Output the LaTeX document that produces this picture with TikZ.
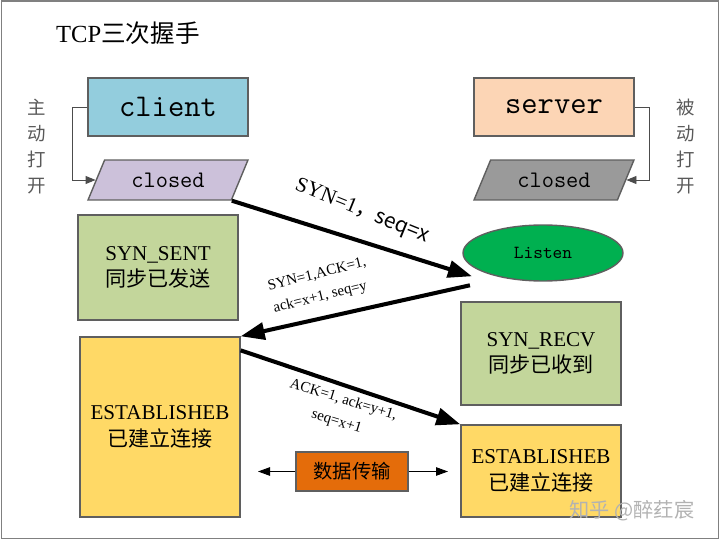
\documentclass[tikz,border=0pt]{standalone}
\usepackage{fontspec}
\setmainfont{Liberation Serif}
\newfontfamily\cjk{Noto Sans CJK SC}
\usetikzlibrary{arrows.meta,positioning,shapes.geometric}
\definecolor{skyblue}{HTML}{93CDDD}
\definecolor{lilac}{HTML}{CCC1DA}
\definecolor{peach}{HTML}{FCD5B5}
\definecolor{ashgray}{HTML}{9A9A9A}
\definecolor{sage}{HTML}{C3D69B}
\definecolor{leaf}{HTML}{00B050}
\definecolor{sand}{HTML}{FFD966}
\definecolor{rust}{HTML}{E46C0A}
\definecolor{boxline}{HTML}{5F5F5F}
\definecolor{frame}{HTML}{808080}

\begin{document}
\begin{tikzpicture}[x=0.02cm,y=-0.02cm,
  box/.style={draw=boxline,line width=0.8pt,minimum width=3.2cm,align=center,
              font=\fontsize{12}{15}\selectfont},
  role/.style={box,minimum height=1.16cm,font=\ttfamily\fontsize{18}{20}\selectfont},
  para/.style={trapezium,trapezium left angle=70,trapezium right angle=110,
               trapezium stretches=true,draw=boxline,line width=0.8pt,
               minimum width=3.2cm,minimum height=0.8cm,inner xsep=0pt,
               font=\ttfamily\fontsize{13.5}{16}\selectfont},
  side/.style={text=black!65,align=center,font=\cjk\fontsize{10.5}{14.8}\selectfont},
  msg/.style={-{Triangle[length=4.8mm,width=3.4mm]},line width=2.3pt},
  tag/.style={align=center,font=\fontsize{8.5}{13}\selectfont},
  open/.style={-{Triangle[length=2mm,width=1.6mm]},draw=black!70,line width=0.5pt},
  flow/.style={-{Triangle[length=2.4mm,width=1.7mm]},line width=0.5pt}]
  \useasboundingbox (0,0) rectangle (720,540);
  \draw[frame,line width=1.1pt] (1.5,1) rectangle (718.5,538.5);

  \node[anchor=west,font=\fontsize{14}{16}\selectfont] (title) at (50,33) {TCP\cjk{三次握手}};

  % client side
  \node[role,fill=skyblue] (client) at (168,107) {client};
  \node[para,fill=lilac] (cclosed) at (168,180) {closed};
  \node[side] (active) at (37,147) {主\\动\\打\\开};
  \node[box,fill=sage,minimum height=2.1cm] (sent) at (158,267.5) {SYN\_SENT\\\cjk{同步已发送}};
  \node[box,fill=sand,minimum height=3.6cm] (estc) at (160,427) {ESTABLISHEB\\\cjk{已建立连接}};

  % server side
  \node[role,fill=peach] (server) at (554,107) {server};
  \node[para,fill=ashgray] (sclosed) at (554,180) {closed};
  \node[side] (passive) at (686,147) {被\\动\\打\\开};
  \node[ellipse,draw=boxline,line width=0.8pt,fill=leaf,minimum width=3.2cm,minimum height=1.12cm,
        font=\ttfamily\fontsize{10.5}{12}\selectfont] (listen) at (543,253) {Listen};
  \node[box,fill=sage,minimum height=2.06cm] (recv) at (541,353.5) {SYN\_RECV\\\cjk{同步已收到}};
  \node[box,fill=sand,minimum height=1.84cm] (ests) at (541,471) {ESTABLISHEB\\\cjk{已建立连接}};

  \node[box,fill=rust,minimum width=2.24cm,minimum height=0.78cm,font=\cjk\fontsize{11}{13}\selectfont] (data) at (352,471.5) {数据传输};
  \coordinate (dleft) at (258,471.5);
  \coordinate (dright) at (448,471.5);

  \draw[open] (client.west) -- ++(-15,0) |- (cclosed.west);
  \draw[open] (server.east) -- ++(15,0) |- (sclosed.east);

  % handshake
  \draw[msg] (cclosed.bottom right corner) -- ([shift={(-14,3)}]listen.south west);
  \draw[msg] ([shift={(-16,12)}]listen.south west) -- (estc.north east);
  \draw[msg] ([yshift=-8]estc.north east) -- (ests.north west);
  \node[rotate=-22,font=\fontsize{12}{14}\selectfont] (syn) at (362,212) {SYN=1\cjk{，}seq=x};
  \node[tag,rotate=14,align=left] (synack) at (320,286) {SYN=1,ACK=1,\\ack=x+1, seq=y};
  \node[tag,rotate=-17] (ack) at (340,411) {ACK=1, ack=y+1,\\seq=x+1};

  \draw[flow] (data.west) -- (dleft);
  \draw[flow] (data.east) -- (dright);

  \node[text=black!30,font=\cjk\fontsize{11.5}{13}\selectfont] (mark) at (632,511) {知乎 @醉荭宸};
\end{tikzpicture}
\end{document}
